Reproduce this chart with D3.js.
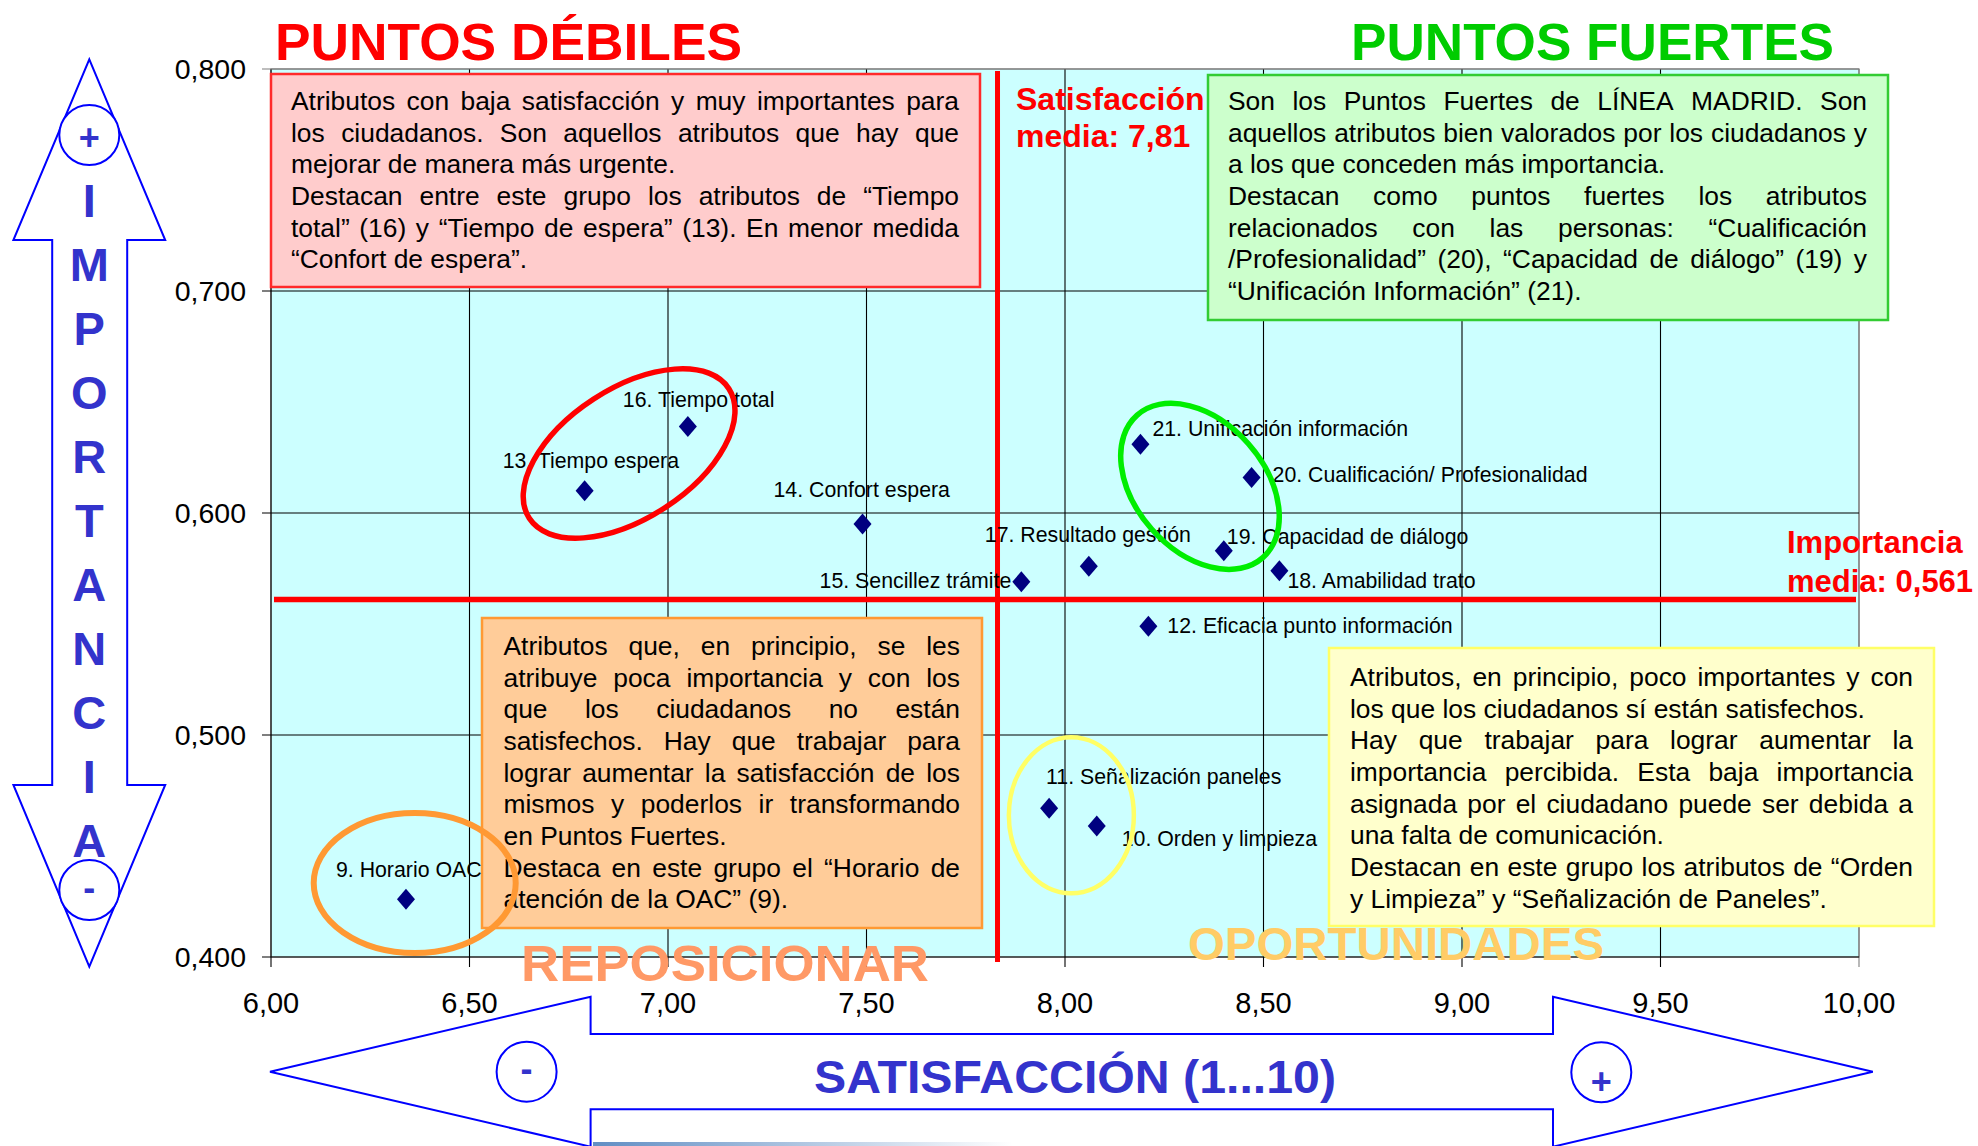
<!DOCTYPE html>
<html>
<head>
<meta charset="utf-8">
<script src="https://cdn.jsdelivr.net/npm/d3@7"></script>
<style>
    body { margin: 0; background: #fff; }
    svg { display: block; font-family: "Liberation Sans", Arial, sans-serif; }
</style>
</head>
<body>
<script>
(function() {
    'use strict';

    // attributes: satisfaction (1..10) and importance
    const attributes = [
        "9. Horario OAC", "10. Orden y limpieza", "11. Señalización paneles",
        "12. Eficacia punto información", "13. Tiempo espera", "14. Confort espera",
        "15. Sencillez trámite", "16. Tiempo total", "17. Resultado gestión",
        "18. Amabilidad trato", "19. Capacidad de diálogo",
        "20. Cualificación/ Profesionalidad", "21. Unificación información"
    ];
    const satisfaction = [6.34, 8.08, 7.96, 8.21, 6.79, 7.49, 7.89, 7.05, 8.06, 8.54, 8.40, 8.47, 8.19];
    const importance = [0.426, 0.459, 0.467, 0.549, 0.610, 0.595, 0.569, 0.639, 0.576, 0.574, 0.583, 0.616, 0.631];

    const xTicks = [6, 6.5, 7, 7.5, 8, 8.5, 9, 9.5, 10];
    const yTicks = [0.4, 0.5, 0.6, 0.7, 0.8];

    // mean lines (as drawn) and their captions
    const meanSatisfaction = 7.83;
    const meanImportance = 0.561;
    const meanSatLabel = ["Satisfacción", "media: 7,81"];
    const meanImpLabel = ["Importancia", "media: 0,561"];

    const quadrantTitles = ["PUNTOS DÉBILES", "PUNTOS FUERTES", "REPOSICIONAR", "OPORTUNIDADES"];
    const axisTitleY = "IMPORTANCIA";
    const axisTitleX = "SATISFACCIÓN (1...10)";

    const weakText = [
        ["Atributos con baja satisfacción y muy importantes para",
         "los ciudadanos. Son aquellos atributos que hay que",
         "mejorar de manera más urgente."],
        ["Destacan entre este grupo los atributos de “Tiempo",
         "total” (16) y “Tiempo de espera” (13). En menor medida",
         "“Confort de espera”."]
    ];
    const strongText = [
        ["Son los Puntos Fuertes de LÍNEA MADRID. Son",
         "aquellos atributos bien valorados por los ciudadanos y",
         "a los que conceden más importancia."],
        ["Destacan como puntos fuertes los atributos",
         "relacionados con las personas: “Cualificación",
         "/Profesionalidad” (20), “Capacidad de diálogo” (19) y",
         "“Unificación Información” (21)."]
    ];
    const repositionText = [
        ["Atributos que, en principio, se les",
         "atribuye poca importancia y con los",
         "que los ciudadanos no están",
         "satisfechos. Hay que trabajar para",
         "lograr aumentar la satisfacción de los",
         "mismos y poderlos ir transformando",
         "en Puntos Fuertes."],
        ["Destaca en este grupo el “Horario de",
         "atención de la OAC” (9)."]
    ];
    const opportunityText = [
        ["Atributos, en principio, poco importantes y con",
         "los que los ciudadanos sí están satisfechos."],
        ["Hay que trabajar para lograr aumentar la",
         "importancia percibida. Esta baja importancia",
         "asignada por el ciudadano puede ser debida a",
         "una falta de comunicación."],
        ["Destacan en este grupo los atributos de “Orden",
         "y Limpieza” y “Señalización de Paneles”."]
    ];

    // label placement relative to each point: dx, dy, anchor
    const labelOffsets = [
        [-70, -22, "start"], [25, 20, "start"], [-3, -24, "start"], [19, 7, "start"],
        [-82, -23, "start"], [-89, -27, "start"], [-10, 6, "end"], [-65, -19, "start"],
        [-104, -24, "start"], [8, 17, "start"], [3, -7, "start"], [21, 5, "start"],
        [12, -8, "start"]
    ];

    const width = 1978;
    const height = 1146;
    const lineHeight = 31.67;

    let locale = d3.formatLocale({ decimal: ",", thousands: ".", grouping: [3], currency: ["", "€"] });
    let fmtY = locale.format(".3f");
    let fmtX = locale.format(".2f");

    let x = d3.scaleLinear().domain([6, 10]).range([271, 1859]);
    let y = d3.scaleLinear().domain([0.4, 0.8]).range([957, 69]);

    let svg = d3.select("body").append("svg")
        .attr("width", width)
        .attr("height", height);

    svg.append("rect").attr("width", width).attr("height", height).attr("fill", "#fff");

    // plot area
    let plot = svg.append("g");
    plot.append("rect")
        .attr("x", x(6)).attr("y", y(0.8))
        .attr("width", x(10) - x(6)).attr("height", y(0.4) - y(0.8))
        .attr("fill", "#ccffff")
        .attr("stroke", "#7f7f7f")
        .attr("stroke-width", 1.2);

    plot.selectAll(".vgrid").data(xTicks).enter().append("line")
        .attr("x1", function(d) { return x(d); })
        .attr("x2", function(d) { return x(d); })
        .attr("y1", y(0.8))
        .attr("y2", y(0.4) + 10)
        .attr("stroke", function(d) { return d === 10 ? "#7f7f7f" : "#000"; })
        .attr("stroke-width", 1.1);

    plot.selectAll(".hgrid").data(yTicks).enter().append("line")
        .attr("x1", x(6) - 9)
        .attr("x2", x(10))
        .attr("y1", function(d) { return y(d); })
        .attr("y2", function(d) { return y(d); })
        .attr("stroke", function(d) { return d === 0.8 ? "#7f7f7f" : "#000"; })
        .attr("stroke-width", 1.1);

    plot.selectAll(".ylab").data(yTicks).enter().append("text")
        .attr("x", 246)
        .attr("y", function(d) { return y(d) + 10; })
        .attr("text-anchor", "end")
        .attr("font-size", 28.5)
        .text(function(d) { return fmtY(d); });

    plot.selectAll(".xlab").data(xTicks).enter().append("text")
        .attr("x", function(d) { return x(d); })
        .attr("y", 1013)
        .attr("text-anchor", "middle")
        .attr("font-size", 29)
        .text(function(d) { return fmtX(d); });

    // commentary boxes
    function drawParagraphs(g, paragraphs, left, textWidth, top) {
        let row = 0;
        paragraphs.forEach(function(lines) {
            lines.forEach(function(line, i) {
                let baseline = top + row * lineHeight;
                if (i === lines.length - 1) {
                    g.append("text").attr("x", left).attr("y", baseline).text(line);
                } else {
                    let words = line.split(" ");
                    let nodes = words.map(function(w) {
                        return g.append("text").attr("y", baseline).text(w);
                    });
                    let lens = nodes.map(function(n) { return n.node().getComputedTextLength(); });
                    let gap = (textWidth - d3.sum(lens)) / (words.length - 1);
                    let cx = left;
                    nodes.forEach(function(n, k) {
                        n.attr("x", cx);
                        cx += lens[k] + gap;
                    });
                }
                row++;
            });
        });
    }

    let boxes = [
        { x: 271, y: 74, w: 709, h: 213, fill: "#ffcccc", stroke: "#ff2a2a", tx: 291, tw: 668, ty: 110, text: weakText },
        { x: 1208, y: 75, w: 680, h: 245, fill: "#ccffcc", stroke: "#33cc33", tx: 1228, tw: 639, ty: 110, text: strongText },
        { x: 482, y: 618, w: 500, h: 310, fill: "#ffcc99", stroke: "#ff9933", tx: 503.5, tw: 456.5, ty: 655, text: repositionText },
        { x: 1329, y: 648, w: 605, h: 278, fill: "#ffffcc", stroke: "#ffff66", tx: 1350, tw: 563, ty: 686, text: opportunityText }
    ];
    boxes.forEach(function(b) {
        let g = svg.append("g").attr("font-size", 26.4).attr("fill", "#000");
        g.append("rect")
            .attr("x", b.x).attr("y", b.y)
            .attr("width", b.w).attr("height", b.h)
            .attr("fill", b.fill)
            .attr("stroke", b.stroke)
            .attr("stroke-width", 2.5);
        drawParagraphs(g, b.text, b.tx, b.tw, b.ty);
    });

    // mean lines
    svg.append("line")
        .attr("x1", x(meanSatisfaction)).attr("x2", x(meanSatisfaction))
        .attr("y1", y(0.8) + 2).attr("y2", y(0.4) + 5)
        .attr("stroke", "#ff0000").attr("stroke-width", 5);
    svg.append("line")
        .attr("x1", x(6) + 3).attr("x2", x(10) - 3)
        .attr("y1", y(meanImportance)).attr("y2", y(meanImportance))
        .attr("stroke", "#ff0000").attr("stroke-width", 5.5);

    let meanText = svg.append("g")
        .attr("fill", "#ff0000").attr("font-weight", "bold");
    meanSatLabel.forEach(function(t, i) {
        meanText.append("text").attr("x", 1016).attr("y", 110 + i * 37)
            .attr("font-size", 32).text(t);
    });
    meanImpLabel.forEach(function(t, i) {
        meanText.append("text").attr("x", 1787).attr("y", 553 + i * 39)
            .attr("font-size", 31).text(t);
    });

    // points
    let points = attributes.map(function(name, i) {
        return { name: name, sat: satisfaction[i], imp: importance[i], off: labelOffsets[i] };
    });
    svg.append("g").selectAll("path").data(points).enter().append("path")
        .attr("d", "M0,-10.5L9,0L0,10.5L-9,0Z")
        .attr("transform", function(d) { return "translate(" + x(d.sat) + "," + y(d.imp) + ")"; })
        .attr("fill", "#000080");
    svg.append("g").attr("font-size", 21.3).attr("fill", "#000")
        .selectAll("text").data(points).enter().append("text")
        .attr("x", function(d) { return x(d.sat) + d.off[0]; })
        .attr("y", function(d) { return y(d.imp) + d.off[1]; })
        .attr("text-anchor", function(d) { return d.off[2]; })
        .text(function(d) { return d.name; });

    // highlight rings around groups of attributes
    let rings = [
        { sat: 6.902, imp: 0.6268, rx: 119, ry: 65, rot: -33, color: "#ff0000", w: 5.5 },
        { sat: 8.340, imp: 0.612, rx: 95, ry: 64.5, rot: 48.6, color: "#00ee00", w: 5.5 },
        { sat: 8.016, imp: 0.4638, rx: 62.5, ry: 78, rot: 0, color: "#ffff66", w: 4.5 },
        { sat: 6.362, imp: 0.4333, rx: 101, ry: 70, rot: 0, color: "#ff9933", w: 6 }
    ];
    svg.append("g").selectAll("ellipse").data(rings).enter().append("ellipse")
        .attr("rx", function(d) { return d.rx; })
        .attr("ry", function(d) { return d.ry; })
        .attr("transform", function(d) {
            return "translate(" + x(d.sat) + "," + y(d.imp) + ")rotate(" + d.rot + ")";
        })
        .attr("fill", "none")
        .attr("stroke", function(d) { return d.color; })
        .attr("stroke-width", function(d) { return d.w; });

    // quadrant titles, stretched to the widths seen in the original
    let titles = [
        { x: 275, y: 60, size: 52, len: 467, color: "#ff0000" },
        { x: 1351, y: 60, size: 52, len: 483, color: "#00cc00" },
        { x: 521, y: 981, size: 50, len: 408, color: "#ff9966" },
        { x: 1188, y: 960, size: 46, len: 416, color: "#ffcc66" }
    ];
    svg.append("g").attr("font-weight", "bold")
        .selectAll("text").data(titles).enter().append("text")
        .attr("x", function(d) { return d.x; })
        .attr("y", function(d) { return d.y; })
        .attr("font-size", function(d) { return d.size; })
        .attr("textLength", function(d) { return d.len; })
        .attr("lengthAdjust", "spacingAndGlyphs")
        .attr("fill", function(d) { return d.color; })
        .text(function(d, i) { return quadrantTitles[i]; });

    // axis arrows
    let arrows = svg.append("g").attr("fill", "#fff").attr("stroke", "#0000ff").attr("stroke-width", 2);
    arrows.append("polygon").attr("points", [
        [89.3, 59.3], [165.2, 240], [127.2, 240], [127.2, 785], [165.2, 785],
        [89.3, 966.7], [13.4, 785], [52.2, 785], [52.2, 240], [13.4, 240]
    ].join(" "));
    arrows.append("polygon").attr("points", [
        [270, 1071.7], [590.6, 996.7], [590.6, 1034], [1553, 1034], [1553, 996.7],
        [1872.8, 1071.7], [1553, 1146.7], [1553, 1109.3], [590.6, 1109.3], [590.6, 1146.7]
    ].join(" "));

    let signs = [
        { cx: 89.3, cy: 135, t: "+", ty: 150 },
        { cx: 89.3, cy: 890, t: "-", ty: 900 },
        { cx: 526.6, cy: 1071.7, t: "-", ty: 1081 },
        { cx: 1601.3, cy: 1072.3, t: "+", ty: 1094 }
    ];
    arrows.selectAll("circle").data(signs).enter().append("circle")
        .attr("cx", function(d) { return d.cx; })
        .attr("cy", function(d) { return d.cy; })
        .attr("r", 30);
    svg.append("g").attr("fill", "#3333cc").attr("font-weight", "bold").attr("font-size", 36)
        .attr("text-anchor", "middle")
        .selectAll("text").data(signs).enter().append("text")
        .attr("x", function(d) { return d.cx; })
        .attr("y", function(d) { return d.ty; })
        .text(function(d) { return d.t; });

    svg.append("g").attr("fill", "#3333cc").attr("font-weight", "bold").attr("font-size", 47)
        .attr("text-anchor", "middle")
        .selectAll("text").data(axisTitleY.split("")).enter().append("text")
        .attr("x", 89.3)
        .attr("y", function(d, i) { return 216.7 + i * 64; })
        .text(function(d) { return d; });

    svg.append("text")
        .attr("x", 814).attr("y", 1093)
        .attr("fill", "#3333cc").attr("font-weight", "bold").attr("font-size", 47)
        .attr("textLength", 522)
        .attr("lengthAdjust", "spacingAndGlyphs")
        .text(axisTitleX);

    // faint shading strip at the bottom edge
    let grad = svg.append("defs").append("linearGradient").attr("id", "strip");
    grad.append("stop").attr("offset", "0%").attr("stop-color", "#4f81bd").attr("stop-opacity", 0.9);
    grad.append("stop").attr("offset", "100%").attr("stop-color", "#4f81bd").attr("stop-opacity", 0);
    svg.append("rect").attr("x", 593).attr("y", 1142).attr("width", 420).attr("height", 4)
        .attr("fill", "url(#strip)");
})();
</script>
</body>
</html>
